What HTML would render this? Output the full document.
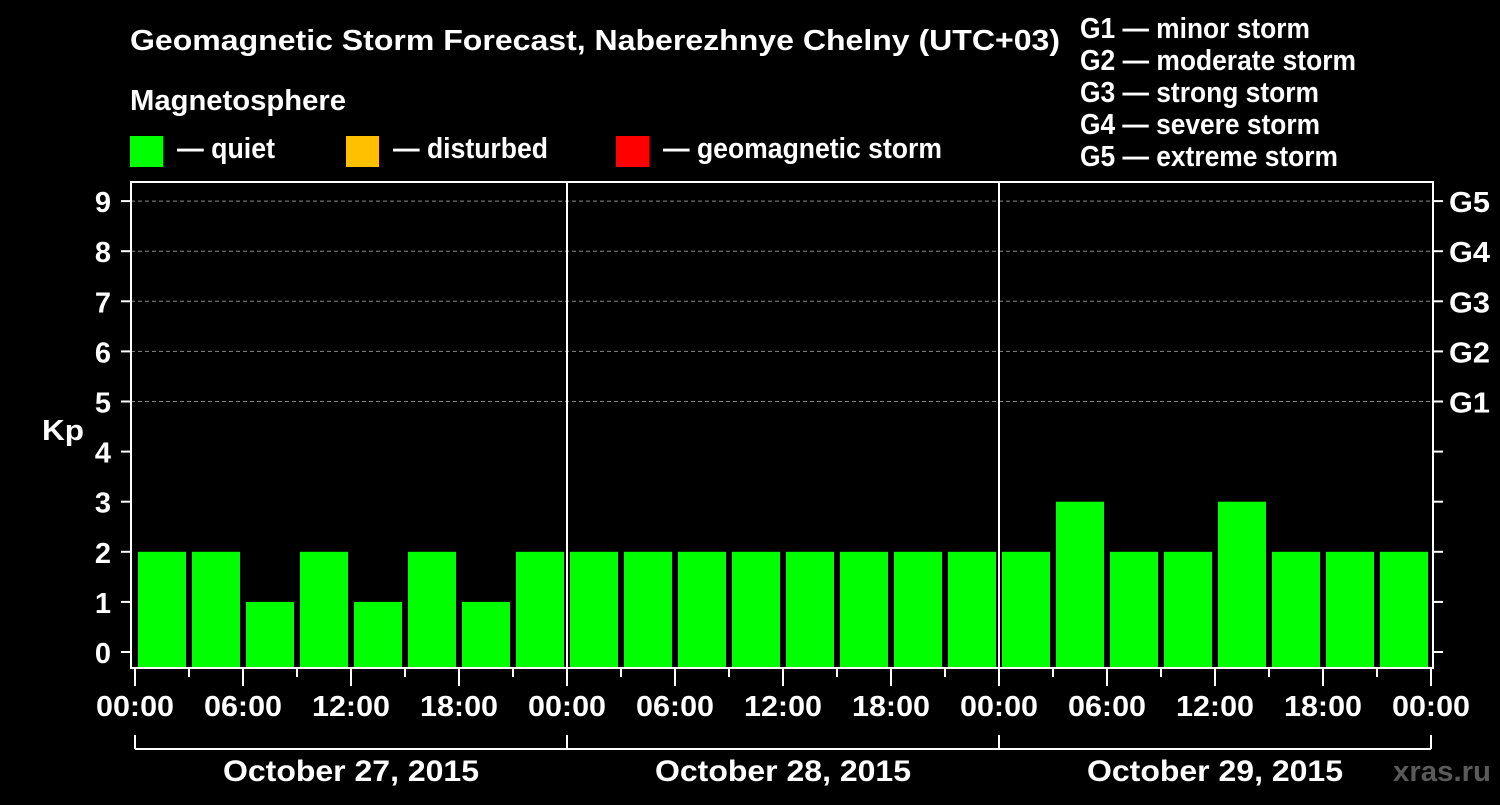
<!DOCTYPE html>
<html><head><meta charset="utf-8"><style>
body{margin:0;background:#000;width:1500px;height:800px;overflow:hidden}
svg text{font-family:"Liberation Sans",Arial,sans-serif;font-weight:bold;fill:#fff}
</style></head><body>
<svg id="c" width="1500" height="800">
<text x="130" y="50" font-size="29" textLength="930" lengthAdjust="spacingAndGlyphs">Geomagnetic Storm Forecast, Naberezhnye Chelny (UTC+03)</text>
<text x="130" y="110" font-size="29" textLength="216" lengthAdjust="spacingAndGlyphs">Magnetosphere</text>
<rect x="130" y="136" width="33" height="31" fill="#00ff00"/>
<text x="177" y="158" font-size="29" textLength="98" lengthAdjust="spacingAndGlyphs">— quiet</text>
<rect x="346" y="136" width="33" height="31" fill="#ffc000"/>
<text x="393" y="158" font-size="29" textLength="155" lengthAdjust="spacingAndGlyphs">— disturbed</text>
<rect x="616" y="136" width="33" height="31" fill="#ff0000"/>
<text x="663" y="158" font-size="29" textLength="279" lengthAdjust="spacingAndGlyphs">— geomagnetic storm</text>
<g font-size="29">
<text x="1080" y="38" textLength="230" lengthAdjust="spacingAndGlyphs">G1 — minor storm</text>
<text x="1080" y="70" textLength="276" lengthAdjust="spacingAndGlyphs">G2 — moderate storm</text>
<text x="1080" y="102" textLength="239" lengthAdjust="spacingAndGlyphs">G3 — strong storm</text>
<text x="1080" y="134" textLength="240" lengthAdjust="spacingAndGlyphs">G4 — severe storm</text>
<text x="1080" y="166" textLength="258" lengthAdjust="spacingAndGlyphs">G5 — extreme storm</text>
</g>
<text x="42" y="440" font-size="29" textLength="42" lengthAdjust="spacingAndGlyphs">Kp</text>
<text x="1393" y="781" font-size="29" textLength="98" lengthAdjust="spacingAndGlyphs" style="fill:#5a5a5a">xras.ru</text>
<g id="grid"></g><g id="bars"></g><g id="axes"></g>
</svg>
<script>
const kpValues=[2,2,1,2,1,2,1,2, 2,2,2,2,2,2,2,2, 2,3,2,2,3,2,2,2];
const yTicks=[0,1,2,3,4,5,6,7,8,9];
const gLabels=["G1","G2","G3","G4","G5"];
const gLevels=[5,6,7,8,9];
const dayLabels=["October 27, 2015","October 28, 2015","October 29, 2015"];
const hourLabels=["00:00","06:00","12:00","18:00"];
const NS="http://www.w3.org/2000/svg";
const L=131,R=1433,T=182,B=668;
const x0=135,slot=54;
const y=v=>652-v*50.1;
const xs=i=>x0+i*slot;
function mk(t,a,p){const e=document.createElementNS(NS,t);for(const k in a)e.setAttribute(k,a[k]);p.appendChild(e);return e;}
const grid=document.getElementById('grid'),bars=document.getElementById('bars'),ax=document.getElementById('axes');
gLevels.forEach((g,i)=>{
 const l=mk('line',{x1:L,x2:R,y1:y(g),y2:y(g),stroke:'#888','stroke-dasharray':'4,3','stroke-width':1},grid);
 
 
 const t=mk('text',{x:1449,y:y(g)+11,'font-size':29,textLength:41,lengthAdjust:'spacingAndGlyphs'},ax);t.textContent=gLabels[i];
 
 
});
kpValues.forEach((v,i)=>{
 const r=mk('rect',{x:xs(i)+3,y:y(v),width:48,height:B-1-y(v),fill:v>=5?'#ff0000':v>=4?'#ffc000':'#00ff00'},bars);
 
 
});
const fr=mk('rect',{x:L,y:T,width:R-L,height:B-T,fill:'none',stroke:'#fff','stroke-width':2},ax);


yTicks.forEach(v=>{
 mk('line',{x1:121,x2:L,y1:y(v),y2:y(v),stroke:'#fff','stroke-width':2},ax);
 mk('line',{x1:R,x2:1443,y1:y(v),y2:y(v),stroke:'#fff','stroke-width':2},ax);
 const t=mk('text',{x:111,y:y(v)+11,'font-size':29,'text-anchor':'end'},ax);t.textContent=v;
 
 
});
for(let d=1;d<dayLabels.length;d++){
 const l=mk('line',{x1:xs(d*8),x2:xs(d*8),y1:T,y2:B,stroke:'#fff','stroke-width':2},ax);
 
 
}
for(let i=0;i<=kpValues.length;i++){
 const major=i%2===0;
 mk('line',{x1:xs(i),x2:xs(i),y1:B,y2:major?686:677,stroke:'#fff','stroke-width':2},ax);
 if(major){const t=mk('text',{x:xs(i)-39,y:716,'font-size':29,textLength:78,lengthAdjust:'spacingAndGlyphs'},ax);t.textContent=hourLabels[(i/2)%4];
 
 }
}
mk('line',{x1:xs(0),x2:xs(kpValues.length),y1:749,y2:749,stroke:'#fff','stroke-width':2},ax);
for(let d=0;d<=dayLabels.length;d++) mk('line',{x1:xs(d*8),x2:xs(d*8),y1:735,y2:749,stroke:'#fff','stroke-width':2},ax);
dayLabels.forEach((s,d)=>{
 const t=mk('text',{x:xs(d*8+4)-128,y:781,'font-size':30,textLength:256,lengthAdjust:'spacingAndGlyphs'},ax);t.textContent=s;
 
 
});
</script>
</body></html>
